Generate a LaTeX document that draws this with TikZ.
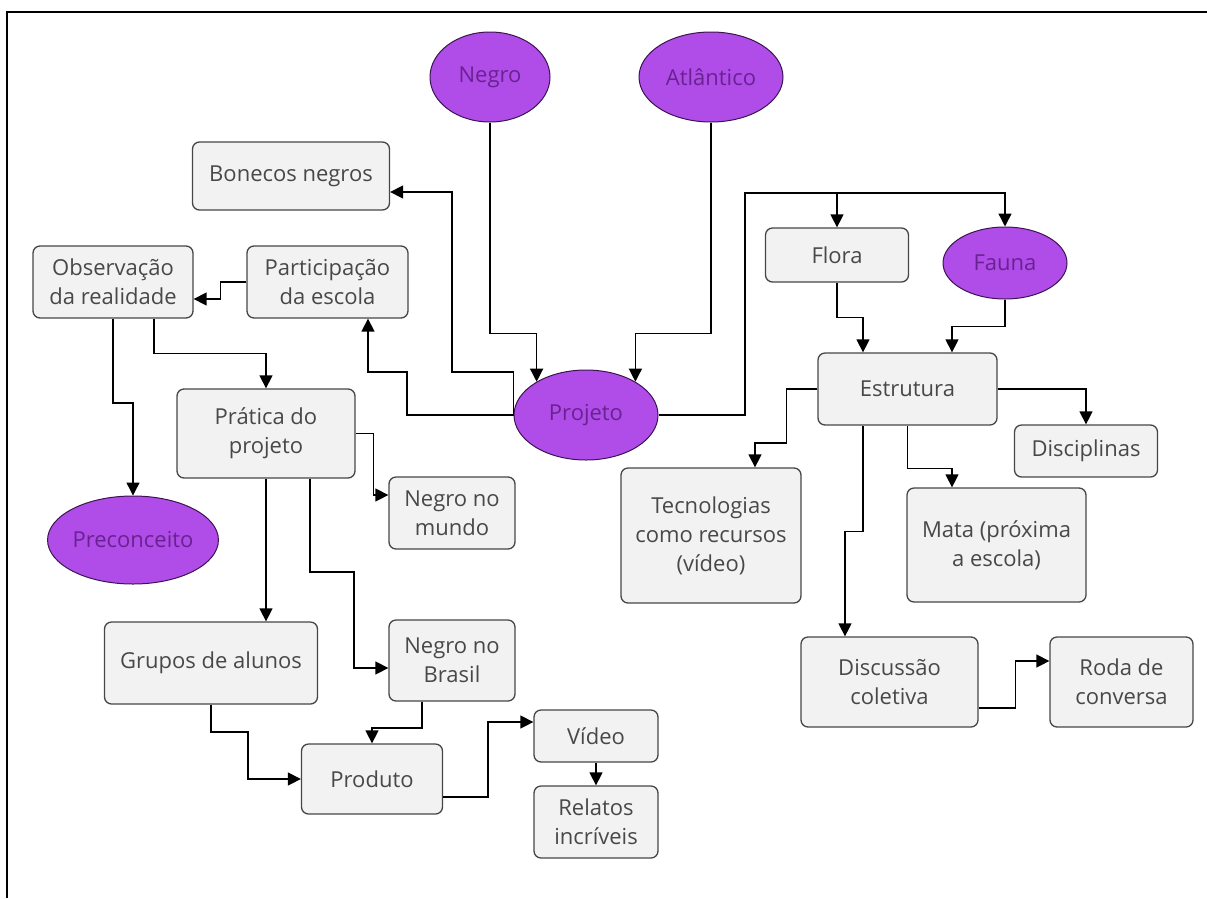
\documentclass[tikz,border=0pt]{standalone}
\usepackage{fontspec}
\setmainfont{Open Sans}
\usetikzlibrary{shapes.geometric,arrows.meta,calc}
\definecolor{boxfill}{RGB}{242,242,242}
\definecolor{boxline}{RGB}{70,70,70}
\definecolor{txt}{RGB}{72,72,72}
\definecolor{purp}{RGB}{176,76,232}
\definecolor{purpline}{RGB}{60,20,80}
\definecolor{purptxt}{RGB}{105,35,145}
\tikzset{
  box/.style={draw=boxline, fill=boxfill, rounded corners=7pt, line width=1.3pt,
    text=txt, font=\fontsize{22}{29}\selectfont, align=center, inner sep=0pt},
  oval/.style={ellipse, draw=purpline, fill=purp, line width=1pt,
    text=purptxt, font=\fontsize{22}{29}\selectfont, inner sep=0pt},
  conn/.style={draw=black, line width=1.4pt, -{Triangle[length=13pt,width=13pt]}}
}
\begin{document}
\begin{tikzpicture}[x=1pt,y=-1pt]
\useasboundingbox (0,0) rectangle (1207,898);
\draw[line width=2.6pt] (7,898) -- (7,12) -- (1207,12);

% ellipses
\node[oval, minimum width=120pt, minimum height=90pt] (negro) at (490,77) {Negro};
\node[oval, minimum width=144pt, minimum height=90pt] (atlantico) at (711,77) {Atlântico};
\node[oval, minimum width=144pt, minimum height=90pt] (projeto) at (586,415) {Projeto};
\node[oval, minimum width=124pt, minimum height=72pt] (fauna) at (1005,263) {Fauna};
\node[oval, minimum width=166pt, minimum height=88pt] (preconceito) at (133,540) {Preconceito};

% boxes
\node[box, minimum width=197pt, minimum height=68pt] (bonecos) at (291,176) {Bonecos negros};
\node[box, minimum width=160pt, minimum height=72pt] (observacao) at (113,282) {Observação\\da realidade};
\node[box, minimum width=161pt, minimum height=72pt] (participacao) at (327.5,282) {Participação\\da escola};
\node[box, minimum width=178pt, minimum height=89pt] (pratica) at (266,433.5) {Prática do\\projeto};
\node[box, minimum width=126pt, minimum height=72pt] (negromundo) at (452,513) {Negro no\\mundo};
\node[box, minimum width=213pt, minimum height=82pt] (grupos) at (211,663) {Grupos de alunos};
\node[box, minimum width=126pt, minimum height=81pt] (negrobrasil) at (452,660.5) {Negro no\\Brasil};
\node[box, minimum width=141pt, minimum height=70pt] (produto) at (372,779) {Produto};
\node[box, minimum width=124pt, minimum height=52pt] (video) at (596,736) {Vídeo};
\node[box, minimum width=124pt, minimum height=72pt] (relatos) at (596,822) {Relatos\\incríveis};
\node[box, minimum width=143pt, minimum height=54pt] (flora) at (837,255) {Flora};
\node[box, minimum width=179pt, minimum height=72pt] (estrutura) at (907.5,389) {Estrutura};
\node[box, minimum width=143pt, minimum height=52pt] (disciplinas) at (1086,451) {Disciplinas};
\node[box, minimum width=180pt, minimum height=135pt] (tecnologias) at (711,535.5) {Tecnologias\\como recursos\\(vídeo)};
\node[box, minimum width=179pt, minimum height=114pt] (mata) at (996.5,545) {Mata (próxima\\a escola)};
\node[box, minimum width=177pt, minimum height=90pt] (discussao) at (889.5,682) {Discussão\\coletiva};
\node[box, minimum width=143pt, minimum height=90pt] (roda) at (1121.5,682) {Roda de\\conversa};

% connectors
\draw[conn] (negro.south) -- ++(0,211) -| (projeto.146);
\draw[conn] (atlantico.south) -- ++(0,211) -| (projeto.34);
\draw[conn] (projeto.west) |- (452,372) |- ([yshift=-16pt]bonecos.east);
\draw[conn] (projeto.west) -| (407,372) -| ([xshift=40.5pt]participacao.south);
\coordinate (fj) at (745,193);
\draw[conn] (projeto.east) -| (fj) -| (flora.north);
\draw[conn] (fj) -| (fauna.north);
\draw[conn] (participacao.west) -- ++(-26,0) |- ([yshift=-17pt]observacao.east);
\draw[conn] (observacao.south) |- (133,403) -- (preconceito.north);
\draw[conn] ([xshift=41pt]observacao.south) -- ++(0,35) -| (pratica.north);
\draw[conn] (pratica.east) -- ++(18,0) |- ([yshift=18pt]negromundo.west);
\draw[conn] (pratica.south) -- (pratica.south |- grupos.north);
\draw[conn] ([xshift=44pt]pratica.south) |- (354,572) |- ([yshift=-7.5pt]negrobrasil.west);
\draw[conn] (grupos.south) |- (248,732) |- (produto.west);
\draw[conn] ([xshift=-30pt]negrobrasil.south) |- (372,728) -- (produto.north);
\draw[conn] ([yshift=-18pt]produto.east) -- ++(45,0) |- ([yshift=14pt]video.west);
\draw[conn] (video.south) -- (relatos.north);
\draw[conn] (flora.south) -- ++(0,35) -| ([xshift=-44.5pt]estrutura.north);
\draw[conn] (fauna.south) -- ++(0,27) -| ([xshift=44.5pt]estrutura.north);
\draw[conn] (estrutura.east) -| (disciplinas.north);
\draw[conn] (estrutura.west) -- ++(-31,0) -- ++(0,54) -| ([xshift=44pt]tecnologias.north);
\draw[conn] ([xshift=-44.5pt]estrutura.south) -- ++(0,106) -| ([xshift=-44.5pt]discussao.north);
\draw[conn] (estrutura.south) -- ++(0,43) -| ([xshift=-44.5pt]mata.north);
\draw[conn] ([yshift=-26pt]discussao.east) -- ++(37,0) |- ([yshift=21pt]roda.west);
\end{tikzpicture}
\end{document}
